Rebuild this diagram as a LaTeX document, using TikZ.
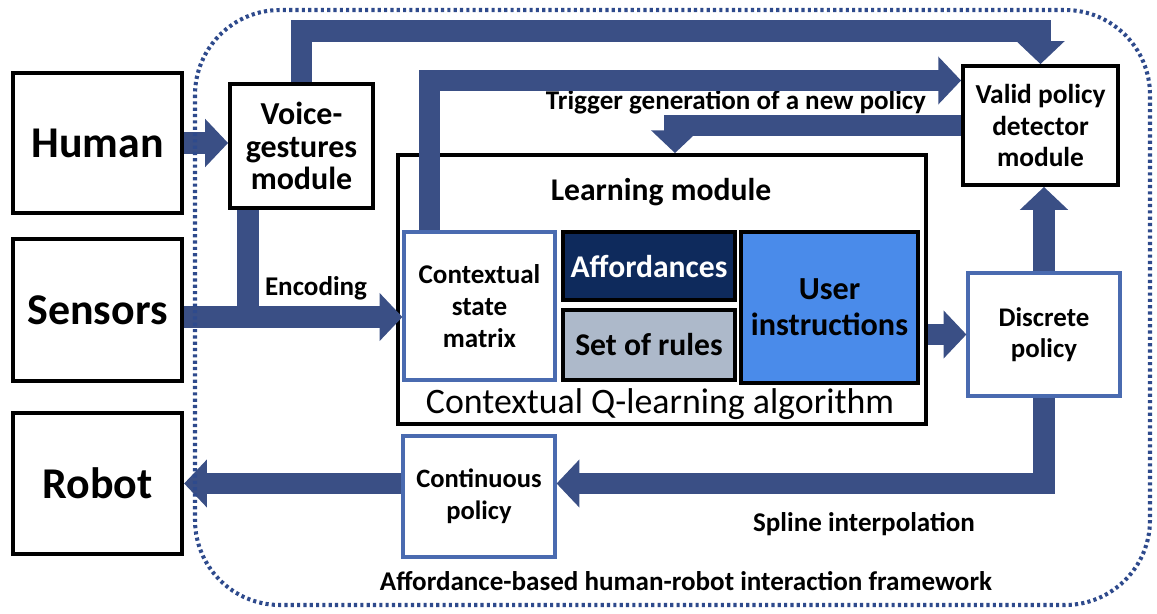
\documentclass[tikz,border=0pt]{standalone}
\usepackage{fontspec}
\setmainfont{Carlito}
\usetikzlibrary{arrows.meta}

\definecolor{flowblue}{RGB}{58,79,133}
\definecolor{edgeblue}{RGB}{74,107,176}
\definecolor{affnavy}{RGB}{14,42,92}
\definecolor{rulegray}{RGB}{173,185,202}
\definecolor{userblue}{RGB}{74,139,234}
\definecolor{dotblue}{RGB}{46,74,140}

\begin{document}
\begin{tikzpicture}[
        x=0.02cm, y=-0.02cm,
        agent/.style={draw=black, line width=2.4pt, fill=white, minimum width=3.38cm,
            font=\bfseries\fontsize{25}{28}\selectfont},
        module/.style={draw=black, line width=2.2pt, fill=white, align=center, inner sep=1pt},
        policy/.style={draw=edgeblue, line width=1.8pt, fill=white, align=center, inner sep=1pt},
        flow/.style={draw=flowblue, line width=12.5pt, line join=miter,
            -{Triangle[width=26.6pt, length=13pt]}},
        flowline/.style={draw=flowblue, line width=12.5pt, line join=miter},
        label/.style={font=\bfseries\fontsize{15.4}{18}\selectfont}
    ]
    \useasboundingbox (0,0) rectangle (1157,613);

    % Agenti vlevo
    \node[agent, minimum height=2.8cm] (human) at (97.5,143) {Human};
    \node[agent, minimum height=2.84cm] (sensors) at (97.5,310) {Sensors};
    \node[agent, minimum height=2.82cm] (robot) at (97.5,483.5) {Robot};

    % Moduly
    \node[module, minimum width=2.86cm, minimum height=2.48cm,
          font=\bfseries\fontsize{18.2}{18.5}\selectfont] (voice) at (301.5,146)
        {Voice-\\gestures\\module};
    \node[module, minimum width=3.1cm, minimum height=2.38cm,
          font=\bfseries\fontsize{15.6}{18}\selectfont] (valid) at (1040.5,125.5)
        {Valid policy\\detector\\module};

    % Learning module
    \node[module, minimum width=10.56cm, minimum height=5.38cm] (learn) at (662,289.5) {};
    \node[font=\bfseries\fontsize{18}{20}\selectfont] (learntitle) at (661,192) {Learning module};
    \node[font=\fontsize{20.4}{22}\selectfont] (qlearn) at (660,404) {Contextual Q-learning algorithm};
    \node[policy, minimum width=3.02cm, minimum height=2.96cm,
          font=\bfseries\fontsize{15.4}{18}\selectfont] (csm) at (479.5,306)
        {Contextual\\state\\matrix};
    \node[module, fill=affnavy, text=white, minimum width=3.44cm, minimum height=1.36cm,
          font=\bfseries\fontsize{18}{20}\selectfont] (afford) at (649,266) {Affordances};
    \node[module, fill=rulegray, minimum width=3.44cm, minimum height=1.4cm,
          font=\bfseries\fontsize{18}{20}\selectfont] (rules) at (649,345) {Set of rules};
    \node[module, fill=userblue, minimum width=3.54cm, minimum height=3.02cm,
          font=\bfseries\fontsize{18.3}{20.5}\selectfont] (user) at (829.5,307.5)
        {User\\instructions};

    % Politiky
    \node[policy, minimum width=3.04cm, minimum height=2.46cm,
          font=\bfseries\fontsize{15.3}{18}\selectfont] (discrete) at (1044,334.5)
        {Discrete\\policy};
    \node[policy, minimum width=3.04cm, minimum height=2.42cm,
          font=\bfseries\fontsize{15.1}{18}\selectfont] (cont) at (479,496.5)
        {Continuous\\policy};

    % Popisky
    \node[label] (trig) at (736,102) {Trigger generation of a new policy};
    \node[label] (enc) at (316,288) {Encoding};
    \node[label] (spline) at (864,524) {Spline interpolation};
    \node[label] (frame) at (686,581) {Affordance-based human-robot interaction framework};

    % Šipky
    \draw[flow] (human.east) -- (human.east -| voice.west);
    \draw[flowline] ([xshift=-1.07cm]voice.south) -- ([xshift=-1.07cm, yshift=-0.14cm]voice.south |- sensors.east);
    \draw[flow] ([yshift=-0.14cm]sensors.east) -- ([yshift=-0.14cm]sensors.east -| csm.west);
    \draw[flow] (voice.north) -- ++(0,-51) -| (valid.north);
    \draw[flow] ([xshift=-1.0cm]csm.north) |- ([yshift=0.9cm]valid.west);
    \draw[flow] (valid.west) -| ([xshift=0.26cm]learn.north);
    \draw[flow] (learn.east |- discrete.west) -- (discrete.west);
    \draw[flow] (discrete.north) -- (discrete.north |- valid.south);
    \draw[flow] (discrete.south) |- (cont.east |- robot.east);
    \draw[flow] (cont.west |- robot.east) -- (robot.east);

    % Rámec
    \draw[dotblue, line width=2.3pt, dash pattern=on 1.8pt off 1.8pt, rounded corners=1.7cm]
        (195,10) rectangle (1150,605);
\end{tikzpicture}
\end{document}
